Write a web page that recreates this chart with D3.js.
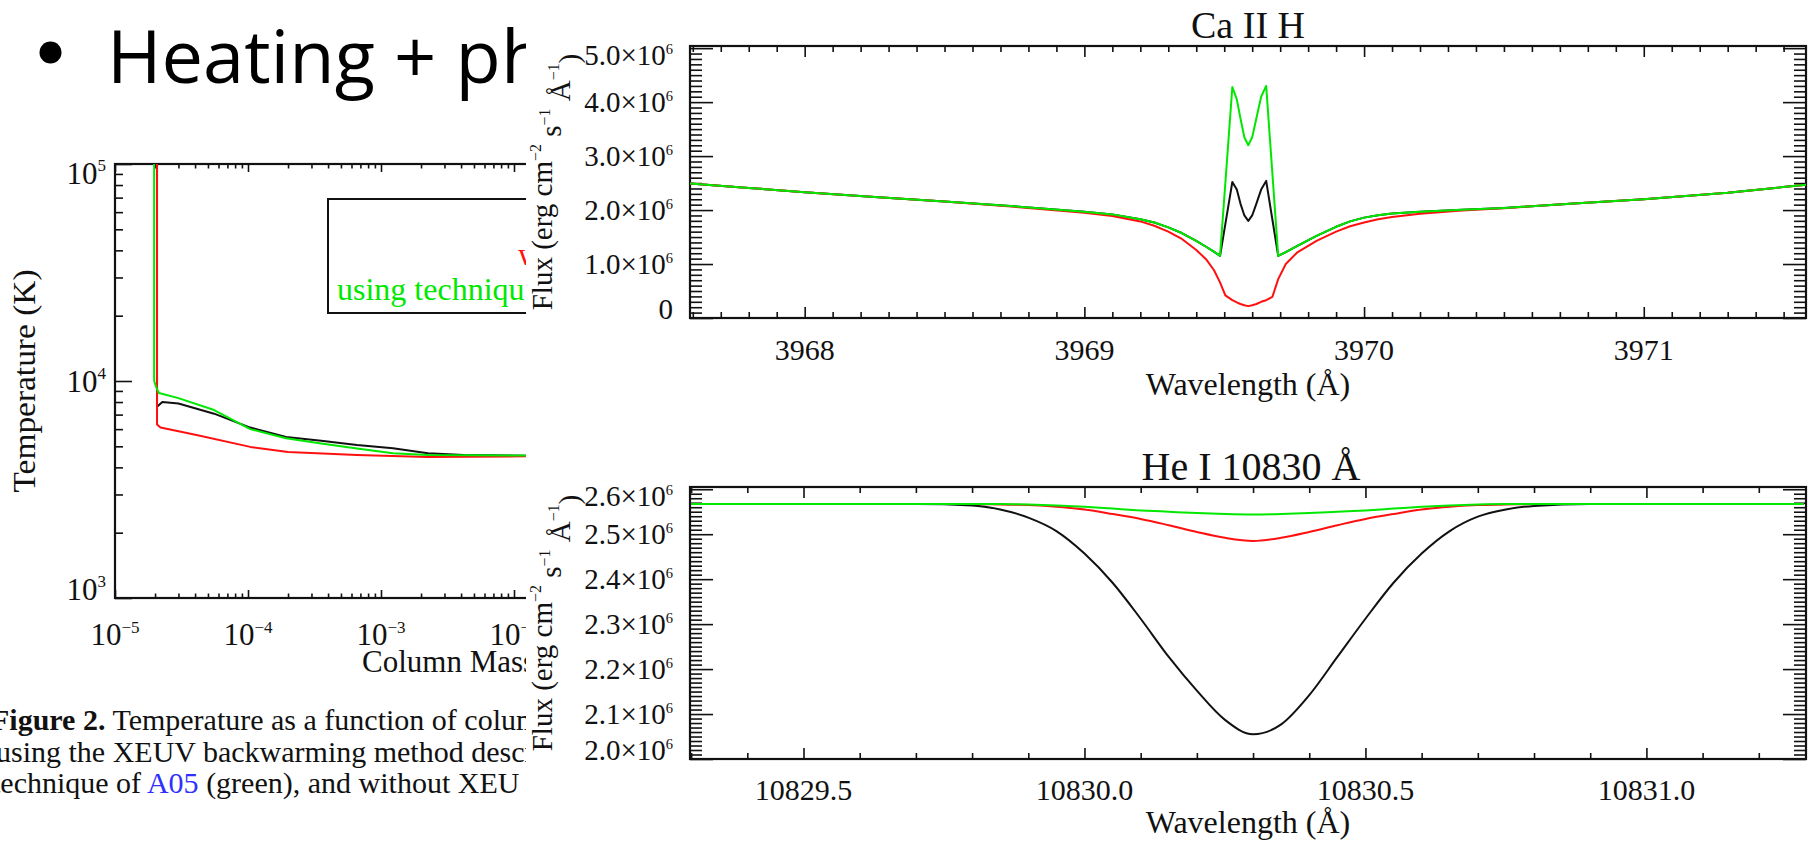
<!DOCTYPE html>
<html>
<head>
<meta charset="utf-8">
<script src="https://cdn.jsdelivr.net/npm/d3@7"></script>
<style>
  body { margin: 0; background: #fff; }
  svg text { font-family: "Liberation Serif", "Times New Roman", serif; fill: #111; }
</style>
</head>
<body>
<script>
// ---- left figure: temperature vs column mass
const massBlack = [2.07e-5, 2.07e-5, 2.27e-5, 3.0e-5, 5.56e-5, 1.04e-4, 1.93e-4, 3.55e-4, 6.6e-4, 1.23e-3, 2.25e-3, 4.2e-3, 1.5e-2];
const tempBlack = [1e5, 7600, 8000, 7870, 7070, 6100, 5520, 5300, 5070, 4900, 4650, 4560, 4520];
const massGreen = [1.97e-5, 1.97e-5, 2.05e-5, 2.14e-5, 3.0e-5, 5.56e-5, 1.04e-4, 1.93e-4, 3.55e-4, 6.6e-4, 1.23e-3, 2.25e-3, 1.5e-2];
const tempGreen = [1e5, 10000, 9300, 8800, 8340, 7350, 6000, 5450, 5150, 4880, 4650, 4560, 4530];
const massRed = [2.07e-5, 2.07e-5, 2.2e-5, 4.1e-5, 1.04e-4, 2.0e-4, 6.6e-4, 2.25e-3, 1.5e-2];
const tempRed = [1e5, 6300, 6100, 5640, 4970, 4710, 4560, 4470, 4500];
const massTicks = [1e-5, 1e-4, 1e-3, 1e-2, 1e-1];
const tempTicks = [1e3, 1e4, 1e5];

// ---- Ca II H profile (flux in 10^6 erg cm^-2 s^-1 A^-1)
const caWave = [3967.59, 3967.8, 3968.0, 3968.25, 3968.5, 3968.75, 3969.0, 3969.1, 3969.2, 3969.25, 3969.3, 3969.35, 3969.40, 3969.435, 3969.463, 3969.485, 3969.504, 3969.529, 3969.545, 3969.558, 3969.572, 3969.586, 3969.60, 3969.615, 3969.632, 3969.65, 3969.672, 3969.693, 3969.72, 3969.76, 3969.83, 3969.9, 3969.95, 3970.0, 3970.05, 3970.1, 3970.2, 3970.35, 3970.5, 3970.75, 3971.0, 3971.3, 3971.58];
const caGreen = [2.49, 2.41, 2.33, 2.24, 2.16, 2.07, 1.97, 1.92, 1.83, 1.77, 1.68, 1.57, 1.43, 1.32, 1.23, 1.15, 2.50, 4.28, 4.05, 3.70, 3.35, 3.20, 3.35, 3.70, 4.10, 4.30, 2.69, 1.15, 1.22, 1.33, 1.52, 1.69, 1.79, 1.86, 1.905, 1.935, 1.97, 2.005, 2.04, 2.12, 2.20, 2.32, 2.47];
const caBlack = [2.49, 2.41, 2.33, 2.24, 2.16, 2.07, 1.97, 1.92, 1.83, 1.77, 1.68, 1.57, 1.43, 1.32, 1.23, 1.15, 1.74, 2.52, 2.38, 2.12, 1.90, 1.80, 1.90, 2.12, 2.38, 2.54, 1.83, 1.15, 1.22, 1.33, 1.52, 1.69, 1.79, 1.86, 1.905, 1.935, 1.97, 2.005, 2.04, 2.12, 2.20, 2.32, 2.47];
const caRed = [2.49, 2.41, 2.33, 2.24, 2.16, 2.06, 1.95, 1.89, 1.79, 1.71, 1.60, 1.46, 1.26, 1.09, 0.89, 0.66, 0.42, 0.33, 0.29, 0.26, 0.235, 0.22, 0.235, 0.26, 0.30, 0.33, 0.39, 0.72, 1.00, 1.21, 1.43, 1.60, 1.70, 1.77, 1.83, 1.87, 1.93, 1.99, 2.035, 2.12, 2.20, 2.32, 2.47];
const caTicks = [3968, 3969, 3970, 3971];
const caFluxTicks = [0, 1, 2, 3, 4, 5];

// ---- He I 10830 profile
const heWave = [10829.30, 10829.50, 10829.70, 10829.80, 10829.85, 10829.90, 10829.95, 10830.00, 10830.05, 10830.10, 10830.15, 10830.20, 10830.25, 10830.30, 10830.35, 10830.40, 10830.45, 10830.50, 10830.55, 10830.60, 10830.65, 10830.70, 10830.75, 10830.80, 10830.90, 10831.10, 10831.28];
const heBlack = [2.567, 2.567, 2.567, 2.564, 2.555, 2.537, 2.507, 2.457, 2.392, 2.312, 2.227, 2.152, 2.087, 2.055, 2.077, 2.142, 2.227, 2.312, 2.392, 2.457, 2.507, 2.539, 2.555, 2.563, 2.567, 2.567, 2.567];
const heRed = [2.567, 2.567, 2.567, 2.567, 2.566, 2.565, 2.561, 2.555, 2.545, 2.534, 2.520, 2.505, 2.492, 2.485, 2.492, 2.505, 2.520, 2.534, 2.545, 2.555, 2.561, 2.565, 2.566, 2.567, 2.567, 2.567, 2.567];
const heGreen = [2.567, 2.567, 2.567, 2.567, 2.567, 2.566, 2.564, 2.561, 2.557, 2.553, 2.550, 2.547, 2.545, 2.544, 2.545, 2.547, 2.550, 2.553, 2.557, 2.561, 2.564, 2.566, 2.567, 2.567, 2.567, 2.567, 2.567];
const heTicks = [10829.5, 10830.0, 10830.5, 10831.0];
const heFluxTicks = [2.0, 2.1, 2.2, 2.3, 2.4, 2.5, 2.6];

const RED = "#ff1010", GREEN = "#00e800", BLACK = "#111";

const svg = d3.select("body").append("svg").attr("width", 1812).attr("height", 849);
svg.append("defs").append("clipPath").attr("id", "leftClip")
	.append("rect").attr("x", 0).attr("y", 0).attr("width", 526).attr("height", 849);

// draw inward ticks on one side, no labels
const ticks = (g, axisFn, scale, values, pos, len) => {
	g.append("g")
		.attr("transform", pos)
		.call(axisFn(scale).tickValues(values).tickSize(-len).tickFormat(""))
		.call((a) => a.select(".domain").remove())
		.call((a) => a.selectAll("line").attr("stroke", "#111").attr("stroke-width", 1.6));
};

// box with ticks on all four sides
const frame = (g, x, y, xMajor, xMinor, yMajor, yMinor, len) => {
	const [x0, x1] = x.range();
	const [y0, y1] = y.range(); // y0 = bottom
	ticks(g, d3.axisBottom, x, xMajor, `translate(0,${y0})`, len.xMaj);
	ticks(g, d3.axisBottom, x, xMinor, `translate(0,${y0})`, len.xMin);
	ticks(g, d3.axisTop, x, xMajor, `translate(0,${y1})`, len.xMaj);
	ticks(g, d3.axisTop, x, xMinor, `translate(0,${y1})`, len.xMin);
	ticks(g, d3.axisLeft, y, yMajor, `translate(${x0},0)`, len.yMaj);
	ticks(g, d3.axisLeft, y, yMinor, `translate(${x0},0)`, len.yMin);
	ticks(g, d3.axisRight, y, yMajor, `translate(${x1},0)`, len.yMaj);
	ticks(g, d3.axisRight, y, yMinor, `translate(${x1},0)`, len.yMin);
	g.append("rect")
		.attr("x", x0).attr("y", y1)
		.attr("width", x1 - x0).attr("height", y0 - y1)
		.attr("fill", "none").attr("stroke", "#111").attr("stroke-width", 2.2);
};

const drawLine = (g, x, y, xs, ys, color, curve) => {
	const pts = xs.map((d, i) => [d, ys[i]]);
	g.append("path")
		.datum(pts)
		.attr("fill", "none")
		.attr("stroke", color)
		.attr("stroke-width", 2)
		.attr("stroke-linejoin", "round")
		.attr("d", d3.line().x((d) => x(d[0])).y((d) => y(d[1])).curve(curve || d3.curveLinear));
};

// tick label vertically centred on tick, kept inside the box
const yLabelPos = (y, v, fs) => {
	const [b, t] = y.range();
	return Math.max(t + 9, Math.min(b - 9, y(v))) + fs * 0.34;
};

// ================= left figure =================
const left = svg.append("g").attr("clip-path", "url(#leftClip)");

left.append("circle").attr("cx", 50.5).attr("cy", 52.5).attr("r", 11).attr("fill", "#000");
left.append("text")
	.attr("x", 107).attr("y", 83)
	.style("font-family", "'Open Sans', 'Noto Sans', sans-serif")
	.style("font-size", "74px").style("fill", "#000")
	.text("Heating + ph");

const xL = d3.scaleLog().domain([1e-5, 1]).range([115, 780]);
const yL = d3.scaleLog().domain([1e3, 1e5]).range([598, 164]);

const massMinor = [];
massTicks.forEach((d) => { for (let k = 2; k <= 9; k++) massMinor.push(d * k); });
const tempMinor = [];
[1e3, 1e4].forEach((d) => { for (let k = 2; k <= 9; k++) tempMinor.push(d * k); });

frame(left, xL, yL, massTicks, massMinor, tempTicks, tempMinor, { xMaj: 8, xMin: 4.5, yMaj: 17, yMin: 8 });

// legend box (cut by the right-hand figure, as in the slide)
left.append("rect").attr("x", 328).attr("y", 199).attr("width", 440).attr("height", 114)
	.attr("fill", "none").attr("stroke", "#111").attr("stroke-width", 2);
left.append("text").attr("x", 518).attr("y", 265).style("font-size", "32px").style("fill", RED).text("w");
left.append("text").attr("x", 337).attr("y", 300).style("font-size", "32px").style("fill", GREEN).text("using techniqu");

drawLine(left, xL, yL, massBlack, tempBlack, BLACK);
drawLine(left, xL, yL, massRed, tempRed, RED);
drawLine(left, xL, yL, massGreen, tempGreen, GREEN);

const fsL = 31;
tempTicks.forEach((v) => {
	const t = left.append("text").attr("x", 106).attr("y", yLabelPos(yL, v, fsL))
		.attr("text-anchor", "end").style("font-size", fsL + "px");
	t.append("tspan").text("10");
	t.append("tspan").attr("dy", "-0.72em").style("font-size", "55%").text(Math.round(Math.log10(v)));
});
massTicks.forEach((v) => {
	const t = left.append("text").attr("x", xL(v)).attr("y", 645)
		.attr("text-anchor", "middle").style("font-size", fsL + "px");
	t.append("tspan").text("10");
	t.append("tspan").attr("dy", "-0.72em").style("font-size", "55%").text("\u2212" + Math.abs(Math.round(Math.log10(v))));
});

left.append("g")
	.attr("transform", "translate(35,381) rotate(-90)")
	.append("text")
	.attr("text-anchor", "middle").style("font-size", "32px")
	.attr("textLength", 223).attr("lengthAdjust", "spacingAndGlyphs")
	.text("Temperature (K)");

left.append("text").attr("x", 362).attr("y", 672).style("font-size", "31px").text("Column Mass");

// caption (cut on both sides in the slide)
const cap1 = left.append("text").attr("x", -9).attr("y", 730).style("font-size", "30px");
cap1.append("tspan").style("font-weight", "bold").text("Figure 2.");
cap1.append("tspan").text(" Temperature as a function of colum");
left.append("text").attr("x", -4).attr("y", 762).style("font-size", "30px")
	.text("using the XEUV backwarming method descr");
const cap3 = left.append("text").attr("x", -8).attr("y", 793).style("font-size", "30px");
cap3.append("tspan").text("technique of ");
cap3.append("tspan").style("fill", "#3030ff").text("A05");
cap3.append("tspan").text(" (green), and without XEU");

// ================= right figures =================
const right = svg.append("g");
right.append("rect").attr("x", 526).attr("y", 0).attr("width", 1286).attr("height", 849).attr("fill", "#fff");

const fluxLabel = (g, cx, cy) => {
	const t = g.append("g")
		.attr("transform", `translate(${cx},${cy}) rotate(-90)`)
		.append("text")
		.attr("text-anchor", "middle").style("font-size", "29px");
	t.append("tspan").text("Flux (erg cm");
	t.append("tspan").attr("dy", "-0.7em").style("font-size", "55%").text("\u22122");
	t.append("tspan").attr("dy", "0.7em").text(" s");
	t.append("tspan").attr("dy", "-0.7em").style("font-size", "55%").text("\u22121");
	t.append("tspan").attr("dy", "0.7em").text(" \u00c5");
	t.append("tspan").attr("dy", "-0.7em").style("font-size", "55%").text("\u22121");
	t.append("tspan").attr("dy", "0.7em").text(")");
};

const sciTick = (g, y, v, fs) => {
	const t = g.append("text").attr("x", 673).attr("y", yLabelPos(y, v, fs))
		.attr("text-anchor", "end").style("font-size", fs + "px");
	if (v === 0) { t.text("0"); return; }
	t.append("tspan").text(v.toFixed(1) + "\u00d710");
	t.append("tspan").attr("dy", "-0.75em").style("font-size", "50%").text("6");
};

const minorSteps = (lo, hi, step, majorStep) => {
	const out = [];
	const n0 = Math.ceil(lo / step - 1e-6), n1 = Math.floor(hi / step + 1e-6);
	for (let n = n0; n <= n1; n++) {
		const v = +(n * step).toFixed(4);
		const r = v / majorStep;
		if (Math.abs(r - Math.round(r)) > 1e-6) out.push(v);
	}
	return out;
};

// --- Ca II H
const xCa = d3.scaleLinear().domain([3967.59, 3971.58]).range([690, 1806]);
const yCa = d3.scaleLinear().domain([0, 5.04]).range([318, 46]);
const ca = right.append("g");
frame(ca, xCa, yCa, caTicks, minorSteps(3967.59, 3971.58, 0.1, 1), caFluxTicks, minorSteps(0, 5.04, 0.1, 1),
	{ xMaj: 11, xMin: 6, yMaj: 23, yMin: 12 });
drawLine(ca, xCa, yCa, caWave, caBlack, BLACK);
drawLine(ca, xCa, yCa, caWave, caRed, RED);
drawLine(ca, xCa, yCa, caWave, caGreen, GREEN);
caFluxTicks.forEach((v) => sciTick(ca, yCa, v, 29));
caTicks.forEach((v) => {
	ca.append("text").attr("x", xCa(v)).attr("y", 360).attr("text-anchor", "middle")
		.style("font-size", "30px").text(v);
});
ca.append("text").attr("x", 1248).attr("y", 38).attr("text-anchor", "middle").style("font-size", "38px").text("Ca II H");
ca.append("text").attr("x", 1248).attr("y", 395).attr("text-anchor", "middle").style("font-size", "32px").text("Wavelength (\u00c5)");
fluxLabel(ca, 552, 182);

// --- He I 10830
const xHe = d3.scaleLinear().domain([10829.298, 10831.284]).range([690, 1806]);
const yHe = d3.scaleLinear().domain([2.0, 2.605]).range([759, 487]);
const he = right.append("g");
frame(he, xHe, yHe, heTicks, minorSteps(10829.298, 10831.284, 0.1, 0.5), heFluxTicks, minorSteps(2.0, 2.605, 0.01, 0.1),
	{ xMaj: 11, xMin: 6, yMaj: 23, yMin: 12 });
drawLine(he, xHe, yHe, heWave, heBlack, BLACK, d3.curveMonotoneX);
drawLine(he, xHe, yHe, heWave, heRed, RED, d3.curveMonotoneX);
drawLine(he, xHe, yHe, heWave, heGreen, GREEN, d3.curveMonotoneX);
heFluxTicks.forEach((v) => sciTick(he, yHe, v, 29));
heTicks.forEach((v) => {
	he.append("text").attr("x", xHe(v)).attr("y", 800).attr("text-anchor", "middle")
		.style("font-size", "30px").text(v.toFixed(1));
});
he.append("text").attr("x", 1251).attr("y", 480).attr("text-anchor", "middle").style("font-size", "40px").text("He I 10830 \u00c5");
he.append("text").attr("x", 1248).attr("y", 833).attr("text-anchor", "middle").style("font-size", "32px").text("Wavelength (\u00c5)");
fluxLabel(he, 552, 623);
</script>
</body>
</html>
